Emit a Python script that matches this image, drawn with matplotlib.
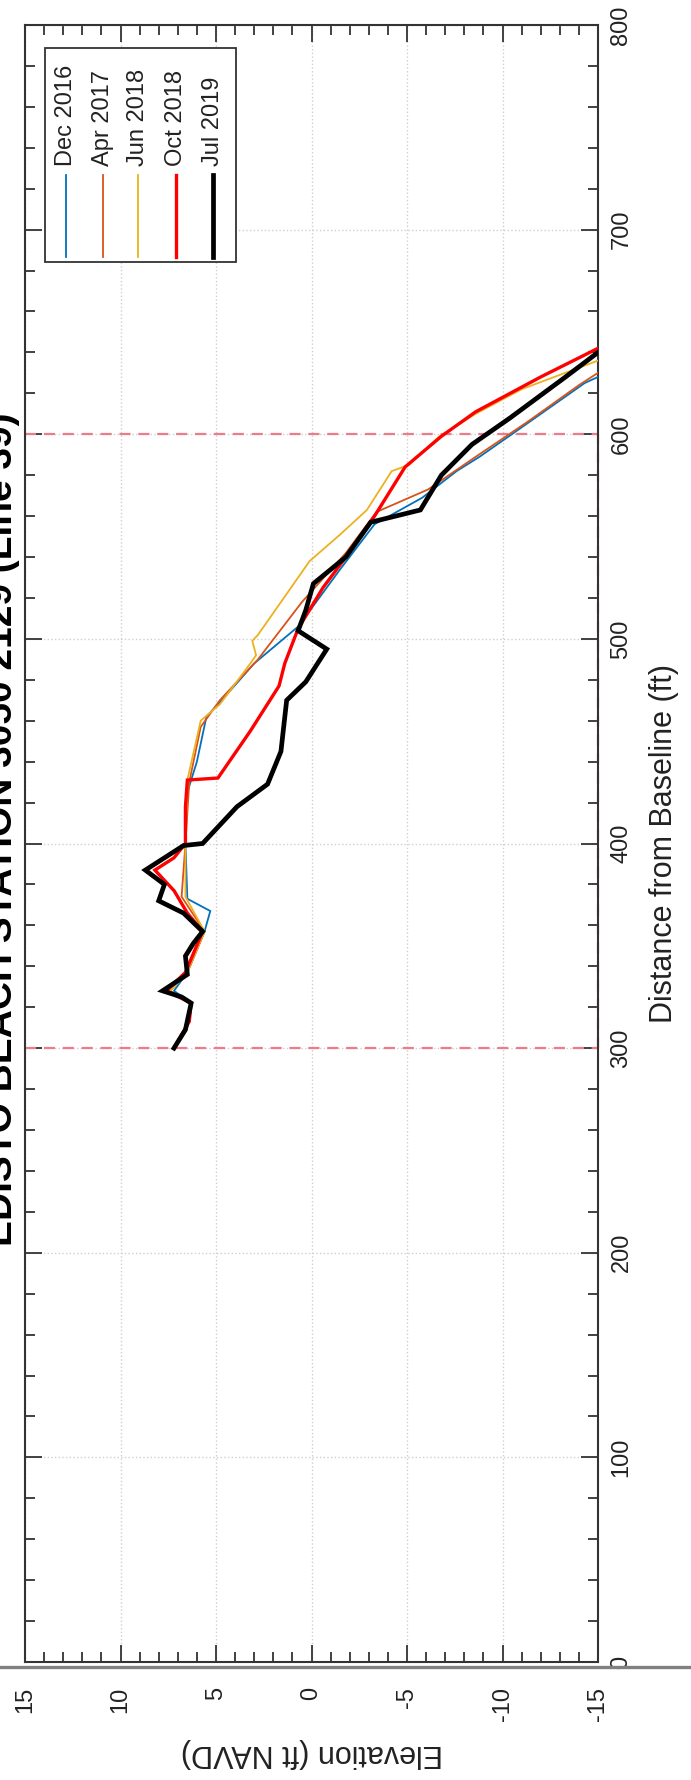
import numpy as np
import matplotlib
matplotlib.use("Agg")
import matplotlib.pyplot as plt
from matplotlib.lines import Line2D
from matplotlib.patches import Rectangle
from matplotlib.ticker import MultipleLocator

plt.rcParams['font.family'] = ['Liberation Sans', 'DejaVu Sans']
plt.rcParams['axes.unicode_minus'] = False

### survey data (distance ft, elevation ft NAVD) ###
surveys = ["Dec 2016", "Apr 2017", "Jun 2018", "Oct 2018", "Jul 2019"]
colors = ["#0072BD", "#D95319", "#EDB120", "#FF0000", "#000000"]
widths = [1.3, 1.3, 1.3, 2.4, 3.4]

dist_dec16 = [300, 313, 322, 328, 337, 357, 367, 373, 400, 425, 440, 462, 470, 488, 506,
              534, 556, 569, 582, 589, 604, 625, 628]
elev_dec16 = [7.2, 6.4, 6.3, 7.2, 6.5, 5.6, 5.3, 6.5, 6.6, 6.5, 6.0, 5.5, 4.7, 3.0, 0.7,
              -1.5, -3.3, -5.8, -7.6, -8.8, -11.1, -14.3, -15.0]

dist_apr17 = [300, 313, 322, 328, 337, 357, 374, 387, 400, 430, 457, 470, 490, 518, 542,
              562, 573, 589, 606, 624, 630]
elev_apr17 = [7.2, 6.4, 6.3, 7.4, 6.5, 5.6, 6.8, 6.7, 6.6, 6.4, 5.8, 4.8, 2.8, 0.5, -1.8,
              -3.4, -6.1, -8.6, -11.3, -14.0, -15.0]

dist_jun18 = [300, 313, 322, 328, 337, 357, 374, 400, 431, 460, 468, 488, 492, 499, 502,
              518, 538, 551, 563, 582, 585, 599, 610, 622, 636]
elev_jun18 = [7.2, 6.4, 6.3, 7.4, 6.5, 5.6, 6.6, 6.6, 6.5, 5.8, 4.8, 3.2, 2.9, 3.1, 2.8,
              1.6, 0.1, -1.5, -2.9, -4.2, -5.1, -6.7, -8.6, -11.0, -15.0]

dist_oct18 = [300, 313, 322, 328, 337, 357, 366, 377, 387, 393, 400, 418, 431, 432, 455,
              477, 488, 505, 525, 540, 560, 584, 599, 611, 628, 642]
elev_oct18 = [7.2, 6.4, 6.3, 7.6, 6.6, 5.7, 6.5, 7.2, 8.2, 7.2, 6.6, 6.6, 6.5, 4.9, 3.2,
              1.7, 1.4, 0.7, -0.6, -1.8, -3.3, -4.9, -6.8, -8.6, -12.0, -15.0]

dist_jul19 = [300, 309, 322, 325, 328, 336, 345, 351, 357, 366, 372, 380, 387, 393, 399,
              400, 418, 429, 445, 470, 479, 495, 504, 514, 527, 540, 557, 563, 580, 595,
              608, 628, 640]
elev_jul19 = [7.2, 6.6, 6.3, 6.8, 7.8, 6.5, 6.6, 6.2, 5.7, 6.7, 8.0, 7.7, 8.7, 7.7, 6.7,
              5.7, 3.9, 2.3, 1.6, 1.3, 0.3, -0.8, 0.7, 0.3, -0.1, -1.8, -3.1, -5.7, -6.8, -8.4,
              -10.4, -13.3, -15.0]

dists = [dist_dec16, dist_apr17, dist_jun18, dist_oct18, dist_jul19]
elevs = [elev_dec16, elev_apr17, elev_jun18, elev_oct18, elev_jul19]

limits_dist = [300, 600]   # dashed boundary lines
title = "EDISTO BEACH STATION 3050 2129 (Line 39)"

### figure ###
W, H = 691, 1780
fig = plt.figure(figsize=(W/100, H/100), dpi=100)
ax = fig.add_axes([25/W, 1 - 1662/H, 573/W, 1637/H])

# profile drawn rotated: elevation along horizontal, distance along vertical
for d, e, c, lw in zip(dists, elevs, colors, widths):
    ax.plot(e, d, color=c, lw=lw, solid_joinstyle='miter', zorder=3)

for yd in limits_dist:
    ax.axhline(yd, color="#ee7a8a", lw=1.6, ls=(0, (5, 3.5)), zorder=2)
ax.plot([-15, -15], limits_dist, color="#ee7a8a", lw=1.6, ls=(0, (5, 3.5)),
        clip_on=False, zorder=2)

ax.set_xlim(15, -15)
ax.set_ylim(0, 800)
ax.xaxis.set_major_locator(MultipleLocator(5))
ax.xaxis.set_minor_locator(MultipleLocator(1))
ax.yaxis.set_major_locator(MultipleLocator(100))
ax.yaxis.set_minor_locator(MultipleLocator(20))
ax.grid(True, which='major', color="#cfcfcf", ls=':', lw=1.0)

ax.tick_params(which='both', direction='in', top=True, bottom=True, left=True, right=True,
               labelleft=False, labelright=True, colors="#333333", width=1.3)
ax.tick_params(which='major', length=12)
ax.tick_params(which='minor', length=7)
ax.tick_params(axis='x', labelsize=17, labelrotation=90, pad=18, labelcolor="#222222")
ax.tick_params(axis='y', labelsize=17, labelrotation=90, pad=9, labelcolor="#222222")
for lab in ax.get_yticklabels():
    lab.set_verticalalignment('center')
for sp in ax.spines.values():
    sp.set_color("#333333")
    sp.set_linewidth(1.5)

ax.yaxis.set_label_position('right')
ax.set_ylabel("Distance from Baseline (ft)", fontsize=22, rotation=90,
              ha='center', va='center', color="#222222")
ax.yaxis.set_label_coords(1.115, 0.5)
ax.set_xlabel("Elevation (ft NAVD)", fontsize=22, rotation=180,
              ha='center', va='center', color="#222222")
ax.xaxis.set_label_coords(0.5, -0.0556)

# legend, drawn rotated like the rest of the chart
ax.add_patch(Rectangle((0.035, 0.855), 0.333, 0.131, transform=ax.transAxes,
                       fc='white', ec='#333333', lw=1.3, zorder=5))
leg_x = [0.0716, 0.136, 0.197, 0.264, 0.328]
for lx, name, c, lw in zip(leg_x, surveys, colors, widths):
    ax.add_line(Line2D([lx, lx], [0.8585, 0.9085], transform=ax.transAxes,
                       color=c, lw=lw, zorder=6))
    ax.text(lx, 0.914, name, transform=ax.transAxes, rotation=90, ha='center',
            va='bottom', fontsize=17, color="#222222", zorder=6)

# title (cut off at the left page edge)
fig.text(20/W, 1 - 829/H, title, rotation=90, ha='right', va='center',
         fontsize=28, fontweight='bold', color='black')

# page edge line
fig.add_artist(Line2D([0, 1], [1 - 1667/H, 1 - 1667/H], transform=fig.transFigure,
                      color="#808080", lw=2.4))

fig.savefig("out.png", dpi=100)
